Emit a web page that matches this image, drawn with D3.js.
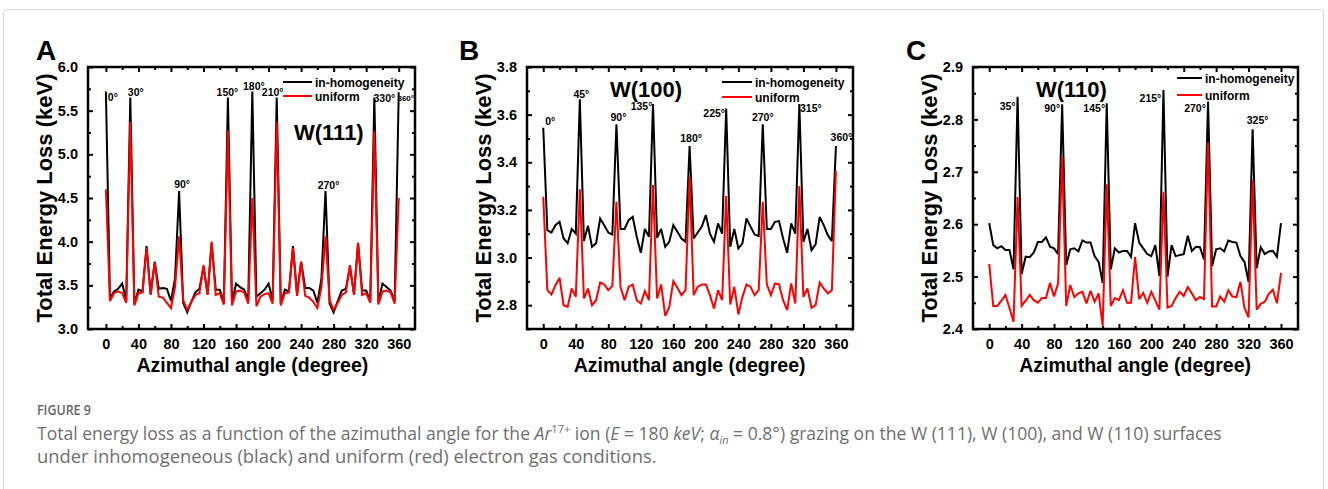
<!DOCTYPE html>
<html>
<head>
<meta charset="utf-8">
<script src="https://cdn.jsdelivr.net/npm/d3@7/dist/d3.min.js"></script>
<style>
  body { margin: 0; background: #fff; }
  svg text { font-family: "Liberation Sans", Arial, sans-serif; }
  .cap { font-family: "Open Sans", "Noto Sans", sans-serif !important; fill: #6f6f6f; }
</style>
</head>
<body>
<svg id="fig" width="1328" height="489"></svg>
<script>
// azimuthal angles (degree), same for all panels
let angles = [0,5,10,15,20,25,30,35,40,45,50,55,60,65,70,75,80,85,90,95,100,105,110,115,120,125,130,135,140,145,150,155,160,165,170,175,180,
  185,190,195,200,205,210,215,220,225,230,235,240,245,250,255,260,265,270,275,280,285,290,295,300,305,310,315,320,325,330,335,340,345,350,355,360];

// W(111)
let w111Inhom = [5.72,3.35,3.43,3.46,3.52,3.33,5.65,3.29,3.45,3.43,3.95,3.40,3.77,3.46,3.47,3.46,3.32,3.58,4.58,3.30,3.19,3.31,3.42,3.46,3.71,3.40,3.98,3.45,3.45,3.31,5.65,3.30,3.52,3.48,3.45,3.33,5.72,
  3.37,3.41,3.45,3.52,3.33,5.65,3.29,3.45,3.43,3.95,3.40,3.77,3.47,3.47,3.44,3.30,3.58,4.58,3.29,3.19,3.32,3.44,3.46,3.71,3.40,3.98,3.44,3.44,3.32,5.65,3.30,3.52,3.48,3.44,3.32,5.71];
let w111Uniform = [4.60,3.32,3.41,3.43,3.41,3.30,5.37,3.27,3.41,3.42,3.93,3.39,3.76,3.37,3.36,3.30,3.24,3.48,4.06,3.33,3.22,3.31,3.39,3.41,3.73,3.39,4.00,3.39,3.41,3.28,5.27,3.27,3.43,3.44,3.42,3.29,4.50,
  3.26,3.37,3.40,3.41,3.29,5.37,3.27,3.41,3.42,3.93,3.38,3.77,3.38,3.36,3.31,3.24,3.48,4.06,3.33,3.22,3.30,3.39,3.42,3.73,3.39,3.99,3.39,3.41,3.30,5.27,3.28,3.43,3.44,3.42,3.29,4.50];

// W(100)
let w100Inhom = [3.545,3.115,3.105,3.136,3.150,3.080,3.060,3.120,3.100,3.664,3.069,3.133,3.045,3.060,3.164,3.136,3.105,3.097,3.559,3.120,3.120,3.157,3.171,3.087,3.020,3.120,3.087,3.645,3.083,3.120,3.045,3.066,3.136,3.108,3.080,3.066,3.468,
  3.080,3.105,3.130,3.178,3.100,3.066,3.143,3.100,3.626,3.045,3.120,3.038,3.060,3.164,3.130,3.097,3.090,3.559,3.120,3.120,3.150,3.153,3.080,3.020,3.143,3.100,3.645,3.066,3.120,3.031,3.055,3.171,3.136,3.094,3.069,3.468];
let w100Uniform = [3.255,2.863,2.845,2.884,2.915,2.800,2.793,2.870,2.835,3.287,2.828,2.870,2.800,2.821,2.895,2.887,2.863,2.881,3.234,2.877,2.821,2.877,2.887,2.821,2.807,2.859,2.821,3.304,2.828,2.887,2.755,2.793,2.901,2.873,2.842,2.863,3.339,
  2.842,2.877,2.887,2.887,2.842,2.786,2.863,2.821,3.258,2.803,2.877,2.761,2.835,2.887,2.877,2.842,2.863,3.234,2.887,2.842,2.891,2.887,2.821,2.779,2.891,2.807,3.300,2.835,2.870,2.789,2.800,2.895,2.870,2.850,2.863,3.363];

// W(110)
let w110Inhom = [2.602,2.560,2.554,2.558,2.551,2.551,2.514,2.843,2.505,2.538,2.537,2.546,2.566,2.566,2.575,2.557,2.554,2.543,2.829,2.522,2.552,2.554,2.548,2.569,2.565,2.565,2.539,2.528,2.488,2.831,2.514,2.554,2.546,2.549,2.549,2.538,2.602,
  2.565,2.554,2.543,2.539,2.560,2.501,2.856,2.500,2.560,2.539,2.541,2.543,2.578,2.549,2.557,2.556,2.533,2.834,2.520,2.552,2.554,2.548,2.569,2.566,2.565,2.539,2.528,2.490,2.781,2.516,2.556,2.543,2.548,2.549,2.538,2.602];
let w110Uniform = [2.524,2.444,2.444,2.454,2.465,2.440,2.414,2.652,2.444,2.454,2.465,2.455,2.450,2.459,2.459,2.488,2.462,2.487,2.729,2.444,2.484,2.461,2.468,2.471,2.449,2.473,2.452,2.468,2.406,2.676,2.444,2.459,2.455,2.474,2.450,2.450,2.537,
  2.457,2.469,2.450,2.471,2.454,2.437,2.662,2.441,2.444,2.459,2.471,2.463,2.480,2.468,2.455,2.461,2.457,2.756,2.443,2.443,2.462,2.452,2.474,2.462,2.461,2.490,2.440,2.422,2.684,2.437,2.448,2.452,2.467,2.475,2.449,2.507];

// tick labels
let xTicks = [0,40,80,120,160,200,240,280,320,360];
let yTicks111 = [3.0,3.5,4.0,4.5,5.0,5.5,6.0];
let yTicks100 = [2.8,3.0,3.2,3.4,3.6,3.8];
let yTicks110 = [2.4,2.5,2.6,2.7,2.8,2.9];

// peak annotations (angles)
let peaks111 = [0,30,90,150,180,210,270,330,360];
let peaks100 = [0,45,90,135,180,225,270,315,360];
let peaks110 = [35,90,145,215,270,325];

let seriesNames = ["in-homogeneity", "uniform"];
let colors = ["#000000", "#ff0000"];

// label offsets relative to the peak tip (dx, dy) - layout only
let off111 = [[7,10],[5.5,-1.5],[3,-3],[-0.5,-1.5],[1.5,-1],[-4,-1.5],[3,-2],[10,4],[7,9]];
let off100 = [[7,-3],[1.5,-1.5],[2,-3],[-11.5,6.5],[1.5,-4.5],[-12,9],[0,-3],[11.5,8.5],[5.5,-5.5]];
let off110 = [[-10,13.5],[-10,7.5],[-12.5,9],[-13,11.5],[-13,10],[5,-5]];

let panels = [
  {letter:"A", lx:36, left:88, right:415, xDom:[-22,380], yDom:[3.0,6.0], yTicks:yTicks111, yStep:0.5,
   inhom:w111Inhom, uni:w111Uniform, peaks:peaks111, off:off111, titleX:52,
   surf:"W(111)", sx:294, sy:140, legX:283, legY:[82,96], legW:29},
  {letter:"B", lx:459, left:527, right:853, xDom:[-20,381], yDom:[2.7,3.8], yTicks:yTicks100, yStep:0.2,
   inhom:w100Inhom, uni:w100Uniform, peaks:peaks100, off:off100, titleX:491,
   surf:"W(100)", sx:610, sy:97, legX:722, legY:[82,97], legW:30},
  {letter:"C", lx:906, left:973, right:1298, xDom:[-20,381], yDom:[2.4,2.9], yTicks:yTicks110, yStep:0.1,
   inhom:w110Inhom, uni:w110Uniform, peaks:peaks110, off:off110, titleX:937,
   surf:"W(110)", sx:1036, sy:97, legX:1177, legY:[78,95], legW:25}
];

let plotTop = 67, plotBottom = 329;
let svg = d3.select("#fig");

// light frame round the figure
svg.append("rect")
  .attr("x", 3.5).attr("y", 9.5)
  .attr("width", 1320).attr("height", 500)
  .attr("fill", "none").attr("stroke", "#d9d9d9").attr("stroke-width", 1)
  .attr("rx", 3);

panels.forEach(p => {
  let x = d3.scaleLinear().domain(p.xDom).range([p.left, p.right]);
  let y = d3.scaleLinear().domain(p.yDom).range([plotBottom, plotTop]);
  let g = svg.append("g");

  // minor tick positions halfway between majors
  let xMinor = d3.pairs(xTicks).map(d => (d[0] + d[1]) / 2);
  let yMinor = d3.pairs(p.yTicks).map(d => (d[0] + d[1]) / 2);
  if (p.yDom[0] < p.yTicks[0]) yMinor.unshift(p.yTicks[0] - p.yStep / 2);

  let mk = (axisFn, scale, vals, size, pos, labels) => {
    let a = axisFn(scale).tickValues(vals).tickSizeInner(-size).tickSizeOuter(0).tickPadding(size + 5);
    if (!labels) a.tickFormat("");
    else a.tickFormat(labels);
    let ag = g.append("g").attr("transform", pos).call(a);
    ag.select(".domain").remove();
    ag.selectAll("line").attr("stroke", "#000").attr("stroke-width", 2);
    ag.selectAll("text").attr("fill", "#000").style("font-size", "14.5px").style("font-weight", "bold");
    return ag;
  };

  let fx = d3.format("d"), fy = d3.format(".1f");
  mk(d3.axisBottom, x, xTicks, 5, `translate(0,${plotBottom})`, fx);
  mk(d3.axisBottom, x, xMinor, 3, `translate(0,${plotBottom})`, null);
  mk(d3.axisTop, x, xTicks, 5, `translate(0,${plotTop})`, null);
  mk(d3.axisTop, x, xMinor, 3, `translate(0,${plotTop})`, null);
  mk(d3.axisLeft, y, p.yTicks, 5, `translate(${p.left},0)`, fy);
  mk(d3.axisLeft, y, yMinor, 3, `translate(${p.left},0)`, null);
  mk(d3.axisRight, y, p.yTicks, 5, `translate(${p.right},0)`, null);
  mk(d3.axisRight, y, yMinor, 3, `translate(${p.right},0)`, null);

  // lines
  let line = d3.line().x((d, i) => x(angles[i])).y(d => y(d));
  [p.inhom, p.uni].forEach((vals, k) => {
    g.append("path").datum(vals)
      .attr("d", line)
      .attr("fill", "none")
      .attr("stroke", colors[k])
      .attr("stroke-width", 2)
      .attr("stroke-linejoin", "miter")
      .attr("stroke-miterlimit", 3);
  });

  // plot frame
  g.append("rect")
    .attr("x", p.left).attr("y", plotTop)
    .attr("width", p.right - p.left).attr("height", plotBottom - plotTop)
    .attr("fill", "none").attr("stroke", "#000").attr("stroke-width", 2.5);

  // peak labels
  p.peaks.forEach((a, i) => {
    let v = p.inhom[angles.indexOf(a)];
    let small = (p.letter == "A" && a == 360);
    g.append("text")
      .attr("x", x(a) + p.off[i][0])
      .attr("y", y(v) + p.off[i][1])
      .attr("text-anchor", "middle")
      .style("font-size", small ? "8px" : "10.5px")
      .style("font-weight", "bold")
      .text(a + "°");
  });

  // surface label
  g.append("text").attr("x", p.sx).attr("y", p.sy)
    .style("font-size", "22px").style("font-weight", "bold")
    .text(p.surf);

  // legend
  seriesNames.forEach((n, k) => {
    g.append("line")
      .attr("x1", p.legX).attr("x2", p.legX + p.legW)
      .attr("y1", p.legY[k]).attr("y2", p.legY[k])
      .attr("stroke", colors[k]).attr("stroke-width", 2);
    g.append("text")
      .attr("x", p.legX + p.legW + 3).attr("y", p.legY[k] + 4.5)
      .style("font-size", "12px").style("font-weight", "bold")
      .text(n);
  });

  // axis titles
  g.append("text")
    .attr("x", (x(0) + x(360)) / 2).attr("y", 372)
    .attr("text-anchor", "middle")
    .style("font-size", "19.5px").style("font-weight", "bold")
    .text("Azimuthal angle (degree)");
  g.append("text")
    .attr("transform", `translate(${p.titleX},${(plotTop + plotBottom) / 2}) rotate(-90)`)
    .attr("text-anchor", "middle")
    .style("font-size", "22px").style("font-weight", "bold")
    .text("Total Energy Loss (keV)");

  // panel letter
  g.append("text").attr("x", p.lx).attr("y", 60)
    .style("font-size", "28px").style("font-weight", "bold")
    .text(p.letter);
});

// caption
let fitText = (t, w) => {
  let len = t.node().getComputedTextLength();
  let x0 = +t.attr("x");
  t.attr("transform", `translate(${x0},0) scale(${w / len},1) translate(${-x0},0)`);
};

let f9 = svg.append("text").attr("class", "cap").attr("x", 37).attr("y", 415.5)
  .style("font-size", "15px").style("font-weight", "600").style("fill", "#666")
  .text("FIGURE 9");
fitText(f9, 54);

let l1 = svg.append("text").attr("class", "cap").attr("x", 37).attr("y", 440).style("font-size", "17.5px");
l1.append("tspan").text("Total energy loss as a function of the azimuthal angle for the ");
l1.append("tspan").style("font-style", "italic").text("Ar");
l1.append("tspan").attr("dy", -7).style("font-size", "11px").text("17+");
l1.append("tspan").attr("dy", 7).text(" ion (");
l1.append("tspan").style("font-style", "italic").text("E");
l1.append("tspan").text(" = 180 ");
l1.append("tspan").style("font-style", "italic").text("keV");
l1.append("tspan").text("; ");
l1.append("tspan").style("font-style", "italic").text("α");
l1.append("tspan").attr("dy", 4).style("font-size", "11px").style("font-style", "italic").text("in");
l1.append("tspan").attr("dy", -4).text(" = 0.8°) grazing on the W (111), W (100), and W (110) surfaces");
fitText(l1, 1186);

let l2 = svg.append("text").attr("class", "cap").attr("x", 37).attr("y", 463.5).style("font-size", "17.5px")
  .text("under inhomogeneous (black) and uniform (red) electron gas conditions.");
fitText(l2, 620);
</script>
</body>
</html>
